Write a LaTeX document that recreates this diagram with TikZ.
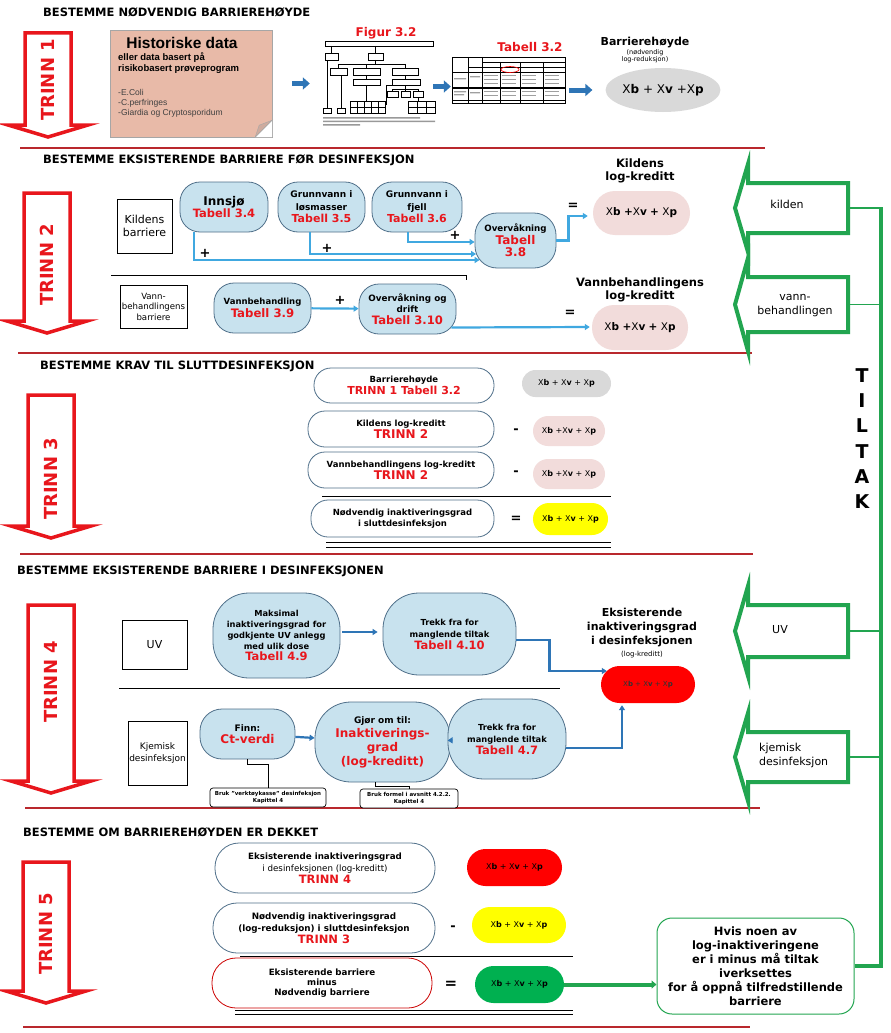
\documentclass[tikz,border=0pt]{standalone}
\usepackage{fontspec}
\setmainfont{DejaVu Sans}
\newfontfamily\arialfont{Liberation Sans}
\usetikzlibrary{arrows.meta,positioning,calc,shapes.geometric}

\definecolor{trinnrod}{RGB}{232,22,28}
\definecolor{skillerod}{RGB}{185,40,45}
\definecolor{tiltakgronn}{RGB}{34,165,80}
\definecolor{lyseblaa}{RGB}{200,226,238}
\definecolor{kantblaa}{RGB}{80,112,138}
\definecolor{pilblaa}{RGB}{64,168,224}
\definecolor{morkblaa}{RGB}{46,117,182}
\definecolor{rosa}{RGB}{242,220,219}
\definecolor{notatrosa}{RGB}{232,186,168}
\definecolor{graafyll}{RGB}{217,217,217}
\definecolor{gulfyll}{RGB}{255,255,0}
\definecolor{rodfyll}{RGB}{255,0,0}
\definecolor{gronnfyll}{RGB}{0,176,80}

\newcommand\fz[2]{\fontsize{#1}{#2}\selectfont}

\begin{document}
\begin{tikzpicture}[
  x=1pt,y=-1pt,
  overskrift/.style={anchor=west, font=\bfseries\fz{11.5}{13}, inner sep=0pt},
  trinnpil/.style={draw=trinnrod, line width=3.5pt, fill=white, line join=miter},
  trinntekst/.style={rotate=90, text=trinnrod, font=\bfseries\fz{18}{20}, inner sep=0pt},
  tiltakpil/.style={draw=tiltakgronn, line width=4pt, fill=white, line join=miter},
  tiltaklinje/.style={draw=tiltakgronn, line width=4pt},
  tiltaktynn/.style={draw=tiltakgronn, line width=1.2pt},
  skille/.style={draw=skillerod, line width=1.2pt},
  strek/.style={draw=black, line width=1pt},
  boks/.style={draw=black, line width=0.8pt, align=center, inner sep=1pt},
  tabellnode/.style={draw=kantblaa, fill=lyseblaa, line width=0.8pt, align=center, inner sep=1pt, font=\bfseries\fz{9}{12.5}},
  krav/.style={draw=kantblaa, fill=white, line width=0.8pt, align=center, inner sep=1pt, font=\bfseries\fz{8.5}{12}},
  pille/.style={rounded corners=#1, align=center, inner sep=0pt},
  henvisning/.style={draw=black, fill=white, line width=0.7pt, rounded corners=3pt, align=center, inner sep=1pt, font=\bfseries\fz{5.5}{6.5}},
  tegn/.style={font=\bfseries\fz{13}{13}, inner sep=0pt},
  blokkpil/.style={draw=morkblaa, line width=5pt, -{Triangle[length=7pt,width=12pt]}},
  blaapil/.style={draw=pilblaa, line width=2.2pt, -{Triangle[length=5pt,width=6pt]}},
  morkpil/.style={draw=morkblaa, line width=2.2pt, -{Triangle[length=5pt,width=6pt]}},
  gronnpil/.style={draw=tiltakgronn, line width=4pt, -{Triangle[length=5pt,width=8pt]}},
  hjelpelinje/.style={draw=black, line width=1pt}
]
\useasboundingbox (0,0) rectangle (891,1033);
\fill[white] (0,0) rectangle (891,1033);

% TRINN-piler til venstre
\foreach \n/\cx/\top/\tip/\ty in {1/48/33/137/80, 2/47/193/333/265, 3/51/395/538/479, 4/51/605/793/682, 5/46/862/1003/934} {
  \draw[trinnpil] (\cx-23,\top) -- (\cx+23,\top) -- (\cx+23,\tip-12) -- (\cx+40,\tip-12)
    -- (\cx,\tip) -- (\cx-40,\tip-12) -- (\cx-23,\tip-12) -- cycle;
  \node[trinntekst] (trinn\n) at (\cx,\ty) {TRINN \n};
}

% skillelinjer
\draw[skille] (20,148) -- (765,148);
\draw[skille] (18,353) -- (752,353);
\draw[skille] (20,554) -- (753,554);
\draw[skille] (25,808) -- (760,808);
\draw[skille] (23,1027) -- (750,1027);

% ---------- TRINN 1 ----------
\node[overskrift] (over1) at (43,12) {BESTEMME NØDVENDIG BARRIEREHØYDE};

\node[draw=gray!70, fill=notatrosa, minimum width=162pt, minimum height=107pt, inner sep=0pt] (hist) at (191,83.5) {};
\fill[white] (hist.south east) -- ++(-17,0) -- ($(hist.south east)+(0,-17)$) -- cycle;
\filldraw[fill=notatrosa!75!gray, draw=gray!70] ($(hist.south east)+(-17,0)$) -- ($(hist.south east)+(-13,-12)$) -- ($(hist.south east)+(0,-17)$) -- cycle;
\draw[gray!70] ($(hist.south east)+(-17,0)$) -- ($(hist.south east)+(0,-17)$);
\node[inner sep=0pt, font=\arialfont\bfseries\fz{15.5}{16}] (histtittel) at (182,43) {Historiske data};
\node[anchor=west, align=left, inner sep=0pt, font=\arialfont\bfseries\fz{9.5}{10.5}] (histunder) at (118,63) {eller data basert på\\risikobasert prøveprogram};
\node[anchor=west, align=left, inner sep=0pt, text=black!75, font=\arialfont\fz{8.5}{10}] (histliste) at (118,103) {-E.Coli\\-C.perfringes\\-Giardia og Cryptosporidum};

% figur 3.2 (miniatyr)
\node[minimum width=115pt, minimum height=87pt, inner sep=0pt] (fig32) at (377.5,81.5) {};
\node[text=trinnrod, font=\bfseries\fz{12}{12}, inner sep=0pt] (figtittel) at (386,33) {Figur 3.2};
\begin{scope}[line width=0.7pt]
  \draw (325,41) rectangle (433,46);
  \draw (331,46) -- (331,53) (375,46) -- (375,53);
  \draw (325,53) rectangle (338,60) (368,53) rectangle (383,60);
  \draw (375,60) -- (375,64) (338,64) -- (405,64);
  \draw (338,64) -- (338,68) (366,64) -- (366,68) (405,64) -- (405,68);
  \draw (330,68) rectangle (347,75) (353,68) rectangle (380,75) (392,68) rectangle (418,75);
  \draw (366,75) -- (366,79) (405,75) -- (405,79);
  \draw (353,79) rectangle (380,85) (392,79) rectangle (420,85);
  \draw (405,85) -- (405,89) (392,89) -- (418,89);
  \draw (392,89) -- (392,91) (405,89) -- (405,91) (418,89) -- (418,91);
  \draw (387,91) rectangle (398,97) (401,91) rectangle (410,97) (413,91) rectangle (423,97);
  \draw (366,85) -- (366,101) (418,97) -- (418,101) (392,85) -- (386,85) -- (386,104) -- (385,104);
  \draw (350,101) rectangle (385,113) (350,107) -- (385,107);
  \foreach \xx in {357,364,371,378} \draw (\xx,101) -- (\xx,113);
  \draw (408,101) rectangle (435,113) (408,107) -- (435,107);
  \foreach \xx in {417,426} \draw (\xx,101) -- (\xx,113);
  \draw (327,60) -- (327,108) (341,75) -- (341,108);
  \draw (323,108) rectangle (331,113) (337,108) rectangle (345,113);
\end{scope}
\fill[gray!80] (323,117) rectangle (420,118.5) (323,120.5) rectangle (435,122) (323,124) rectangle (360,125.5);

% tabell 3.2 (miniatyr)
\node[minimum width=113pt, minimum height=46pt, inner sep=0pt] (tab32) at (508.5,80) {};
\node[text=trinnrod, font=\bfseries\fz{12}{12}, inner sep=0pt] (tabtittel) at (530,47) {Tabell 3.2};
\begin{scope}[line width=0.7pt]
  \draw (452,57) rectangle (565,103);
  \draw (468,57) -- (468,103) (482,57) -- (482,103);
  \foreach \xx in {500,520,543} \draw (\xx,62) -- (\xx,103);
  \draw (482,62) -- (565,62) (468,67) -- (565,67) (452,72) -- (565,72) (452,100) -- (565,100);
  \draw[line width=1.4pt] (452,88) -- (565,88);
\end{scope}
\foreach \xx in {484,502,522,545} \foreach \yy in {75,79,83,91,95}
  \fill[gray!75] (\xx,\yy) rectangle (\xx+14,\yy+1.3);
\fill[gray!75] (454,78) rectangle (466,79.3) (454,91) rectangle (466,92.3) (454,94) rectangle (464,95.3) (470,76) rectangle (480,77.3) (470,92) rectangle (480,93.3);
\draw[red, line width=0.6pt] (510,69.5) ellipse (9 and 3);

% barrierehøyde
\node[font=\bfseries\fz{11}{12}, inner sep=0pt] (hoydetittel) at (645,43) {Barrierehøyde};
\node[font=\fz{6.5}{7}, align=center, inner sep=0pt] (hoydeunder) at (645,56) {(nødvendig\\log-reduksjon)};
\node[ellipse, fill=graafyll, minimum width=98pt, minimum height=44pt, inner sep=0pt, font=\fz{12}{13}] (hoyde) at (663,90) {X\textbf{b} + X\textbf{v} +X\textbf{p}};

\draw[blokkpil, shorten <=20pt, shorten >=10pt] (hist.east) -- (hist.east -| fig32.west);
\draw[blokkpil, shorten <=-2pt, shorten >=1pt] ($(fig32.east)+(0,5)$) -- ($(fig32.east -| tab32.west)+(0,5)$);
\draw[blokkpil, shorten <=4pt, shorten >=13pt] (tab32.east |- hoyde.west) -- (hoyde.west);

% ---------- TRINN 2 ----------
\node[overskrift] (over2) at (43,160) {BESTEMME EKSISTERENDE BARRIERE FØR DESINFEKSJON};

\node[boks, minimum width=55pt, minimum height=54pt, font=\fz{11}{13.5}] (kildeboks) at (144.5,226) {Kildens\\barriere};
\node[tabellnode, minimum width=88pt, minimum height=50pt, rounded corners=20pt] (innsjo) at (224,207) {{\fz{12}{13}Innsjø}\\{\color{trinnrod}\fz{11.5}{13}Tabell 3.4}};
\node[tabellnode, minimum width=87pt, minimum height=50pt, rounded corners=20pt] (losmasser) at (321.5,207) {Grunnvann i\\løsmasser\\{\color{trinnrod}\fz{11}{12}Tabell 3.5}};
\node[tabellnode, minimum width=90pt, minimum height=50pt, rounded corners=20pt] (fjell) at (417,207) {Grunnvann i\\fjell\\{\color{trinnrod}\fz{11}{12}Tabell 3.6}};
\node[tabellnode, minimum width=81pt, minimum height=55pt, rounded corners=22pt, font=\bfseries\fz{8.7}{12.5}] (overv38) at (515.5,240.5) {Overvåkning\\{\color{trinnrod}\fz{12}{13}Tabell}\\{\color{trinnrod}\fz{12}{13}3.8}};

\draw[blaapil] ($(innsjo.south)+(-30,0)$) |- ($(overv38.west)+(5,19.5)$);
\draw[blaapil] ($(losmasser.south)+(-11.5,0)$) |- ($(overv38.west)+(1.5,13.5)$);
\draw[blaapil] ($(fjell.south)+(-9,0)$) |- ($(overv38.west)+(0,1.5)$);
\node[tegn] (pluss1) at (205,253) {+};
\node[tegn] (pluss2) at (327,248) {+};
\node[tegn] (pluss3) at (455,235) {+};

\node[font=\bfseries\fz{11.5}{13}, align=center, inner sep=0pt] (kildetittel) at (640,171) {Kildens\\log-kreditt};
\node[fill=rosa, pille=22pt, minimum width=97pt, minimum height=44pt, font=\fz{10.5}{12}] (kildepill) at (641.5,213) {X\textbf{b} \textbf{+}X\textbf{v} \textbf{+} X\textbf{p}};
\draw[blaapil, shorten >=5pt] (overv38.east) -- ++(12,0) |- ($(kildepill.west)+(0,3)$);
\node[tegn] (lik1) at (573,206) {=};

\draw[strek] (111,275) -- (466,275) -- (466,280);

\node[boks, minimum width=67pt, minimum height=43pt, font=\fz{8.6}{10.5}] (vannboks) at (153.5,306.5) {Vann-\\behandlingens\\barriere};
\node[tabellnode, minimum width=97pt, minimum height=50pt, rounded corners=20pt, font=\bfseries\fz{8.5}{12.5}] (vannbeh) at (262.5,308) {Vannbehandling\\{\color{trinnrod}\fz{11.7}{13}Tabell 3.9}};
\node[tabellnode, minimum width=97pt, minimum height=50pt, rounded corners=20pt, font=\bfseries\fz{8.8}{11.5}] (ovdrift) at (407.5,309) {Overvåkning og\\drift\\{\color{trinnrod}\fz{11.6}{13}Tabell 3.10}};
\draw[blaapil] (vannbeh) -- (ovdrift);
\node[tegn] (pluss4) at (340,300) {+};

\node[font=\bfseries\fz{11.5}{13.5}, align=center, inner sep=0pt] (vanntittel) at (640,290) {Vannbehandlingens\\log-kreditt};
\node[fill=rosa, pille=22pt, minimum width=96pt, minimum height=45pt, font=\fz{10.5}{12}] (vannpill) at (640,327.5) {X\textbf{b} \textbf{+}X\textbf{v} \textbf{+} X\textbf{p}};
\draw[blaapil, shorten >=2pt] ($(ovdrift.east)+(-5,18.5)$) -- (vannpill.west |- 0,327);
\node[tegn] (lik2) at (570,313) {=};

% ---------- TRINN 3 ----------
\node[overskrift] (over3) at (40,366) {BESTEMME KRAV TIL SLUTTDESINFEKSJON};

\node[krav, minimum width=180pt, minimum height=35pt, rounded corners=17pt] (barboks) at (404,385.5) {Barrierehøyde\\{\color{trinnrod}\fz{11}{12}TRINN 1 Tabell 3.2}};
\node[fill=graafyll, pille=13.5pt, minimum width=89pt, minimum height=27pt, font=\fz{8}{9}] (graapill) at (566.5,383.5) {X\textbf{b} + X\textbf{v} + X\textbf{p}};

\node[krav, minimum width=186pt, minimum height=36pt, rounded corners=17pt] (kildboks3) at (401,429) {Kildens log-kreditt\\{\color{trinnrod}\fz{12}{12}TRINN 2}};
\node[tegn] (minus1) at (516,431) {-};
\node[fill=rosa, pille=15pt, minimum width=72pt, minimum height=30pt, font=\fz{8}{9}] (rosapill1) at (569,431) {X\textbf{b} +X\textbf{v} + X\textbf{p}};

\node[krav, minimum width=186pt, minimum height=36pt, rounded corners=17pt] (vannboks3) at (401,470) {Vannbehandlingens log-kreditt\\{\color{trinnrod}\fz{12}{12}TRINN 2}};
\node[tegn] (minus2) at (516,473) {-};
\node[fill=rosa, pille=15pt, minimum width=72pt, minimum height=30pt, font=\fz{8}{9}] (rosapill2) at (569,474) {X\textbf{b} +X\textbf{v} + X\textbf{p}};

\draw[strek] (322,496) -- (611,496);
\node[krav, minimum width=183pt, minimum height=37pt, rounded corners=17pt, font=\bfseries\fz{8.5}{10.5}] (nodvboks) at (402.5,518.5) {Nødvendig inaktiveringsgrad\\i sluttdesinfeksjon};
\node[tegn] (lik3) at (516,519) {=};
\node[fill=gulfyll, pille=16pt, minimum width=75pt, minimum height=32pt, font=\fz{8}{9}] (gulpill3) at (570.5,519) {X\textbf{b} + X\textbf{v} + X\textbf{p}};
\draw[strek] (326,542) -- (611,542) (326,547) -- (611,547);

% ---------- TRINN 4 ----------
\node[overskrift] (over4) at (17,571) {BESTEMME EKSISTERENDE BARRIERE I DESINFEKSJONEN};

\node[boks, minimum width=65pt, minimum height=49pt, font=\fz{11}{13}] (uvboks) at (154.5,644.5) {UV};
\node[tabellnode, minimum width=127pt, minimum height=85pt, rounded corners=36pt, font=\bfseries\fz{8.3}{10.8}] (maks) at (276.5,635.5) {Maksimal\\inaktiveringsgrad for\\godkjente UV anlegg\\med ulik dose\\{\color{trinnrod}\fz{11.5}{13}Tabell 4.9}};
\node[tabellnode, minimum width=133pt, minimum height=82pt, rounded corners=36pt, font=\bfseries\fz{8.3}{12}] (trekk410) at (449.5,634) {Trekk fra for\\manglende tiltak\\{\color{trinnrod}\fz{11.5}{13}Tabell 4.10}};
\draw[morkpil, shorten <=2pt, shorten >=5pt] (maks.east |- 0,632) -- (trekk410.west |- 0,632);

\draw[strek] (119,688) -- (560,688);

\node[font=\bfseries\fz{11}{14}, align=center, inner sep=0pt] (eksinakt) at (642,628) {Eksisterende\\inaktiveringsgrad\\i desinfeksjonen};
\node[font=\fz{7}{8}, inner sep=0pt] (eksinaktunder) at (642,655) {(log-kreditt)};
\node[fill=rodfyll, pille=18.5pt, minimum width=94pt, minimum height=37pt, font=\fz{7}{8}, text=black!80] (rodpill) at (648,684.5) {X\textbf{b} + X\textbf{v} + X\textbf{p}};
\draw[morkpil] ($(trekk410.east)+(0,6)$) -- ++(33,0) |- ($(rodpill.west)+(6,-13.5)$);

\node[boks, minimum width=59pt, minimum height=64pt, font=\fz{9}{12}] (kjemboks) at (157.5,753) {Kjemisk\\desinfeksjon};
\node[tabellnode, minimum width=95pt, minimum height=50pt, rounded corners=22pt] (finn) at (247.5,734) {Finn:\\{\color{trinnrod}\fz{12}{13}Ct-verdi}};
\node[tabellnode, minimum width=135pt, minimum height=80pt, rounded corners=36pt, font=\bfseries\fz{9}{14}] (gjor) at (382.5,742) {Gjør om til:\\{\color{trinnrod}\fz{12}{13}Inaktiverings-}\\{\color{trinnrod}\fz{12}{13}grad}\\{\color{trinnrod}\fz{12}{13}(log-kreditt)}};
\node[tabellnode, minimum width=118pt, minimum height=80pt, rounded corners=36pt, font=\bfseries\fz{8.3}{12}] (trekk47) at (507,739) {Trekk fra for\\manglende tiltak\\{\color{trinnrod}\fz{11.5}{13}Tabell 4.7}};
\draw[morkpil] (finn) -- (gjor);
\draw[morkpil] (gjor) -- (trekk47);
\draw[morkpil] ($(trekk47.east)+(0,9)$) -| ($(rodpill.south)+(-26,2)$);

\node[henvisning, minimum width=116pt, minimum height=19pt] (verktoy) at (268,797.5) {Bruk "verktøykasse" desinfeksjon\\Kapittel 4};
\node[henvisning, minimum width=98pt, minimum height=19pt] (formel) at (409,798.5) {Bruk formel i avsnitt 4.2.2.\\Kapittel 4};
\draw[hjelpelinje] (finn.south) -- ++(0,5) -| (verktoy.north);
\draw[hjelpelinje] ($(gjor.south)+(-7,0)$) -- ++(0,4) -| (formel.north);

% ---------- TRINN 5 ----------
\node[overskrift] (over5) at (23,832) {BESTEMME OM BARRIEREHØYDEN ER DEKKET};

\node[krav, minimum width=220pt, minimum height=50pt, rounded corners=24pt, font=\bfseries\fz{8.7}{12}] (boks4) at (325,868) {Eksisterende inaktiveringsgrad\\{\mdseries i desinfeksjonen (log-kreditt)}\\{\color{trinnrod}\fz{11.5}{12}TRINN 4}};
\node[fill=rodfyll, pille=18.5pt, minimum width=95pt, minimum height=37pt, font=\fz{8}{9}] (rodpill5) at (514.5,867.5) {X\textbf{b} + X\textbf{v} + X\textbf{p}};

\node[krav, minimum width=222pt, minimum height=50pt, rounded corners=24pt, font=\bfseries\fz{8.8}{12}] (boks3) at (324,928) {Nødvendig inaktiveringsgrad\\(log-reduksjon) i sluttdesinfeksjon\\{\color{trinnrod}\fz{11.5}{12}TRINN 3}};
\node[tegn] (minus3) at (453,928) {-};
\node[fill=gulfyll, pille=18pt, minimum width=94pt, minimum height=36pt, font=\fz{8}{9}] (gulpill5) at (519,925) {X\textbf{b} + X\textbf{v} + X\textbf{p}};
\draw[strek] (240,956) -- (573,956);

\node[krav, draw=red!80!black, minimum width=220pt, minimum height=50pt, rounded corners=24pt, font=\bfseries\fz{8.7}{10.2}] (boksdiff) at (322,983) {Eksisterende barriere\\minus\\Nødvendig barriere};
\node[tegn, font=\bfseries\fz{15}{15}] (lik5) at (451,985) {=};
\node[fill=gronnfyll, pille=18.5pt, minimum width=89pt, minimum height=37pt, font=\fz{8}{9}] (gronnpill) at (519.5,984.5) {X\textbf{b} + X\textbf{v} + X\textbf{p}};
\draw[strek] (235,1010) -- (573,1010) (235,1014) -- (573,1014);

\node[draw=tiltakgronn, line width=1pt, rounded corners=15pt, minimum width=197pt, minimum height=96pt, align=center, inner sep=1pt, font=\bfseries\fz{11.5}{14}] (hvis) at (755.5,966) {Hvis noen av\\log-inaktiveringene\\er i minus må tiltak\\iverksettes\\for å oppnå tilfredstillende\\barriere};
\draw[gronnpil] (gronnpill.east) -- (gronnpill.east -| hvis.west);

% ---------- TILTAK ----------
\coordinate (tiltakTopp) at (881,207);
\draw[tiltaklinje] (hvis.east) -| (tiltakTopp);
\node[font=\bfseries\fz{19}{25.2}, align=center, inner sep=0pt] (tiltak) at (862,438.5) {T\\I\\L\\T\\A\\K};

\foreach \navn/\ytop/\ybot in {kilden/183/233, vann/277/332, uv/605/657, kjem/732/782} {
  \draw[tiltakpil] (848,\ytop) -- (848,\ybot) -- (748,\ybot) -- (748,\ybot+19)
    -- (735,{(\ytop+\ybot)/2}) -- (748,\ytop-19) -- (748,\ytop) -- cycle;
  \coordinate (\navn R) at (848,{(\ytop+\ybot)/2});
  \draw[tiltaktynn] (\navn R) -- (\navn R -| tiltakTopp);
}
\node[font=\fz{11}{13}, inner sep=0pt] (kildentekst) at (787,204) {kilden};
\node[font=\fz{11}{14}, align=center, inner sep=0pt] (vanntekst) at (795,306) {vann-\\behandlingen};
\node[font=\fz{11}{13}, inner sep=0pt] (uvtekst) at (780,630) {UV};
\node[font=\fz{11}{14}, align=left, anchor=west, inner sep=0pt] (kjemtekst) at (759,755) {kjemisk\\desinfeksjon};
\end{tikzpicture}
\end{document}
